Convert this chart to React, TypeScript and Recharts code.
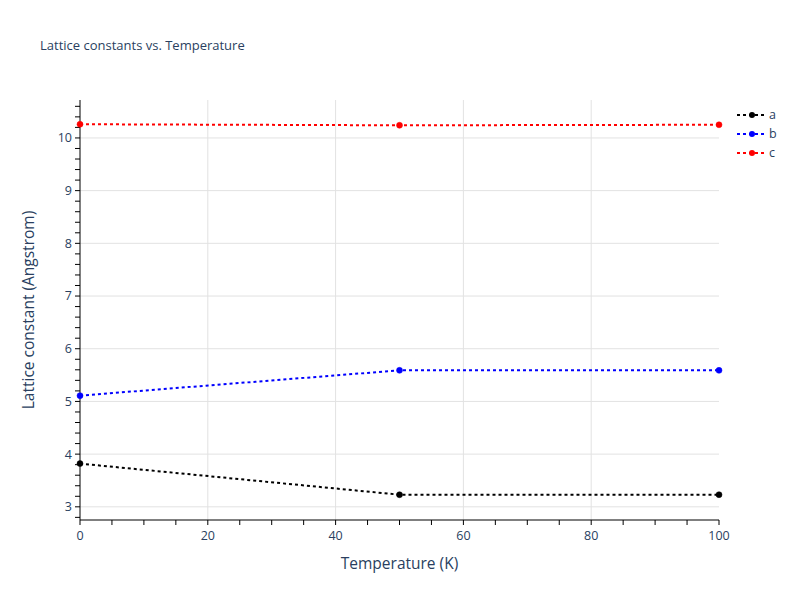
import { CartesianGrid, Label, Line, LineChart, XAxis, YAxis } from "recharts";

const temperatures = [0, 50, 100];
const seriesA = [3.82, 3.23, 3.23];
const seriesB = [5.11, 5.59, 5.59];
const seriesC = [10.26, 10.24, 10.25];

const series = [
  { key: "a", color: "#000000", values: seriesA },
  { key: "b", color: "#0000ff", values: seriesB },
  { key: "c", color: "#ff0000", values: seriesC },
];

const xMajor = [0, 20, 40, 60, 80, 100];
const xMinor = [0, 5, 10, 15, 20, 25, 30, 35, 40, 45, 50, 55, 60, 65, 70, 75, 80, 85, 90, 95, 100];
const yMajor = [3, 4, 5, 6, 7, 8, 9, 10];
// minor ticks every 0.2 (stored in fifths to avoid float noise)
const yMinorFifths = [
  14, 15, 16, 17, 18, 19, 20, 21, 22, 23, 24, 25, 26, 27, 28, 29, 30, 31, 32, 33, 34, 35, 36, 37, 38,
  39, 40, 41, 42, 43, 44, 45, 46, 47, 48, 49, 50, 51, 52, 53,
];
const yMinor = yMinorFifths.map((f) => f / 5);

const data = temperatures.map((t, i) => ({
  t,
  a: seriesA[i],
  b: seriesB[i],
  c: seriesC[i],
}));

const FONT = '"Open Sans", verdana, arial, sans-serif';
const TEXT = "#2a3f5f";

export default function App() {
  return (
    <div style={{ position: "fixed", left: 0, top: 0, width: 800, height: 600, background: "#fff", fontFamily: FONT }}>
      <div style={{ position: "absolute", left: 40, top: 36, fontSize: 13, color: TEXT }}>
        Lattice constants vs. Temperature
      </div>

      <LineChart width={800} height={600} data={data} margin={{ top: 100, right: 81, bottom: 0, left: 0 }}>
        <CartesianGrid
          stroke="#e2e2e2"
          horizontalValues={yMajor}
          verticalValues={[20, 40, 60, 80]}
        />
        <XAxis
          dataKey="t"
          type="number"
          domain={[0, 100]}
          ticks={xMinor}
          interval={0}
          height={80}
          tickSize={5}
          tickMargin={6}
          stroke="#000"
          tick={{ fill: TEXT, fontSize: 12.5, fontFamily: FONT }}
          tickFormatter={(v: number) => (xMajor.includes(v) ? String(v) : "")}
        >
          <Label value="Temperature (K)" position="insideTop" offset={38} style={{ fill: TEXT, fontSize: 15.5, fontFamily: FONT }} />
        </XAxis>
        <YAxis
          type="number"
          domain={[2.75, 10.72]}
          ticks={yMinor}
          interval={0}
          width={80}
          tickSize={5}
          tickMargin={3}
          stroke="#000"
          allowDataOverflow
          tick={{ fill: TEXT, fontSize: 12.5, fontFamily: FONT }}
          tickFormatter={(v: number) => (Math.abs(v - Math.round(v)) < 1e-6 && yMajor.includes(Math.round(v)) ? String(Math.round(v)) : "")}
        >
          <Label
            value="Lattice constant (Angstrom)"
            angle={-90}
            position="insideLeft"
            offset={28}
            style={{ fill: TEXT, fontSize: 15.5, fontFamily: FONT, textAnchor: "middle" }}
          />
        </YAxis>
        {series.map((s) => (
          <Line
            key={s.key}
            dataKey={s.key}
            stroke={s.color}
            strokeWidth={2}
            strokeDasharray="3 3"
            dot={{ r: 3, fill: s.color, stroke: s.color, strokeWidth: 0.5, strokeDasharray: "" }}
            activeDot={false}
            type="linear"
            isAnimationActive={false}
          />
        ))}
      </LineChart>

      <div style={{ position: "absolute", left: 735, top: 105 }}>
        {series.map((s) => (
          <div key={s.key} style={{ display: "flex", alignItems: "center", height: 19 }}>
            <svg width={32} height={10}>
              <line x1={2} y1={5} x2={32} y2={5} stroke={s.color} strokeWidth={2} strokeDasharray="3 3" />
              <circle cx={17} cy={5} r={3} fill={s.color} />
            </svg>
            <span style={{ marginLeft: 2, fontSize: 12.5, color: TEXT }}>{s.key}</span>
          </div>
        ))}
      </div>
    </div>
  );
}
